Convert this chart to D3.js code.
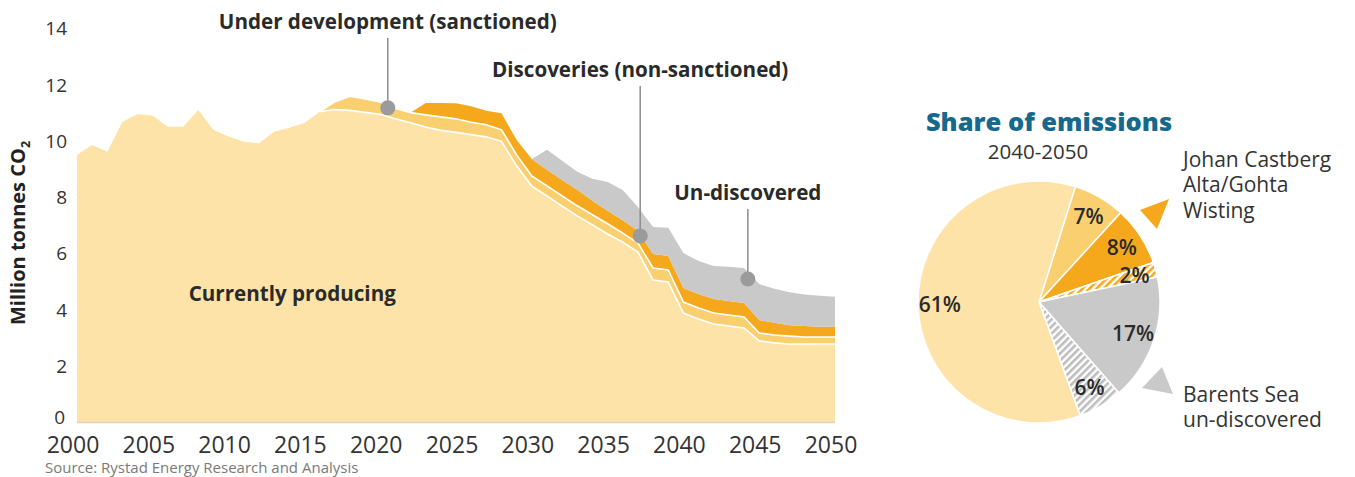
<!DOCTYPE html>
<html><head><meta charset="utf-8">
<script src="https://cdn.jsdelivr.net/npm/d3@7"></script>
<style>
body{margin:0;background:#fff}
svg{display:block}
text{font-family:"Open Sans",sans-serif}
</style>
</head><body>
<svg id="c" width="1355" height="477"></svg>
<script>
// ---------------- DATA ----------------
const years = [2000,2001,2002,2003,2004,2005,2006,2007,2008,2009,2010,2011,2012,2013,2014,2015,2016,2017,2018,2019,2020,2021,2022,2023,2024,2025,2026,2027,2028,2029,2030,2031,2032,2033,2034,2035,2036,2037,2038,2039,2040,2041,2042,2043,2044,2045,2046,2047,2048,2049,2050];
const currentlyProducing = [9.51,9.86,9.62,10.69,10.96,10.90,10.51,10.51,11.10,10.39,10.16,9.98,9.92,10.33,10.47,10.64,11.04,11.12,11.09,11.02,10.95,10.79,10.65,10.50,10.38,10.31,10.23,10.15,9.99,9.12,8.40,8.05,7.69,7.34,7.02,6.70,6.41,6.06,5.06,4.99,3.89,3.68,3.50,3.43,3.36,2.90,2.83,2.79,2.79,2.79,2.79];
const underDevelopment = [0,0,0,0,0,0,0,0,0,0,0,0,0,0,0,0,0,0.27,0.50,0.48,0.44,0.37,0.36,0.43,0.48,0.48,0.44,0.43,0.41,0.39,0.36,0.36,0.36,0.36,0.36,0.36,0.32,0.32,0.43,0.43,0.39,0.39,0.39,0.39,0.39,0.28,0.28,0.28,0.25,0.25,0.25];
const discoveries = [0,0,0,0,0,0,0,0,0,0,0,0,0,0,0,0,0,0,0,0,0,0,0,0.42,0.49,0.55,0.57,0.50,0.59,0.53,0.60,0.57,0.57,0.57,0.50,0.46,0.46,0.43,0.50,0.50,0.50,0.50,0.50,0.50,0.50,0.46,0.43,0.39,0.39,0.36,0.36];
const undiscovered = [0,0,0,0,0,0,0,0,0,0,0,0,0,0,0,0,0,0,0,0,0,0,0,0,0,0,0,0,0,0,0,0.71,0.68,0.64,0.78,1.03,1.07,0.85,0.96,1.00,1.24,1.17,1.17,1.21,1.24,1.28,1.21,1.17,1.12,1.10,1.07];

const yTicks = [0,2,4,6,8,10,12,14];
const xTicks = [2000,2005,2010,2015,2020,2025,2030,2035,2040,2045,2050];

const annotationLabels = ["Under development (sanctioned)","Discoveries (non-sanctioned)","Un-discovered"];
const annotationYears = [2020.5, 2037.15, 2044.25];
const annotationValues = [11.18, 6.63, 5.1];

const pieCategories = ["Under development","Discoveries","Discoveries (Barents)","Un-discovered","Un-discovered (Barents)","Currently producing"];
const pieValues = [7,8,2,17,6,61];
const pieLabels = ["7%","8%","2%","17%","6%","61%"];

const legendTop = ["Johan Castberg","Alta/Gohta","Wisting"];
const legendBottom = ["Barents Sea","un-discovered"];

// ---------------- DRAW ----------------
const svg = d3.select("#c");
const C = {cp:"#fde3a7", ud:"#f9cf6f", di:"#f6a81c", un:"#c9c9c9"};
const textCol = "#333";

const defs = svg.append("defs");
function hatch(id, col){
  const p = defs.append("pattern").attr("id",id).attr("patternUnits","userSpaceOnUse")
    .attr("width",5).attr("height",5).attr("patternTransform","rotate(45)");
  p.append("rect").attr("width",5).attr("height",5).attr("fill","#fff");
  p.append("rect").attr("x",0).attr("width",2.6).attr("height",5).attr("fill",col);
}
hatch("hOrange", C.di);
hatch("hGray", "#bdbdbd");

const x = d3.scaleLinear().domain([2000,2050]).range([77,835]);
const y = d3.scaleLinear().domain([0,14]).range([422.5,28.5]);

const rows = years.map((yr,i)=>({year:yr, cp:currentlyProducing[i], ud:underDevelopment[i], di:discoveries[i], un:undiscovered[i]}));
const keys = ["cp","ud","di","un"];
const series = d3.stack().keys(keys)(rows);

const area = d3.area().x(d=>x(d.data.year)).y0(d=>y(d[0])).y1(d=>y(d[1]));
svg.append("g").selectAll("path").data(series).join("path")
  .attr("d", area).attr("fill", d=>C[d.key]);

const topLine = d3.line().x(d=>x(d.data.year)).y(d=>y(d[1]))
  .defined(d=>d.data.year>=2016);
svg.append("g").selectAll("path").data(series.slice(0,2)).join("path")
  .attr("d", topLine).attr("fill","none").attr("stroke","#fff").attr("stroke-width",1.6);

// baseline
svg.append("line").attr("x1",x(2000)).attr("x2",x(2050)).attr("y1",y(0)).attr("y2",y(0))
  .attr("stroke","#d9d3c2").attr("stroke-width",1.5);

// y tick labels
svg.append("g").selectAll("text").data(yTicks).join("text")
  .attr("x",d=>d===0?65:67).attr("y",d=>y(d) - (d===0?5:0)).attr("dy","0.36em").attr("text-anchor","end")
  .attr("font-size",19).attr("fill",textCol).text(d=>d);

// x tick labels
svg.append("g").selectAll("text").data(xTicks).join("text")
  .attr("x",d=>x(d)-4).attr("y",453).attr("text-anchor","middle")
  .attr("font-size",23).attr("fill",textCol).text(d=>d);

// y title
const yt = svg.append("text").attr("transform","translate(25,233) rotate(-90)")
  .attr("text-anchor","middle").attr("font-size",20).attr("font-weight",700).attr("fill","#222");
yt.append("tspan").text("Million tonnes CO");
yt.append("tspan").attr("font-size",12.5).attr("dy",5).text("2");

// annotations
const ann = annotationLabels.map((l,i)=>({label:l, year:annotationYears[i], value:annotationValues[i]}));
const labelBase = [29,77,200];
const ag = svg.append("g");
ann.forEach((a,i)=>{
  ag.append("line").attr("x1",x(a.year)).attr("x2",x(a.year))
    .attr("y1",labelBase[i]+9).attr("y2",y(a.value)).attr("stroke","#8c8c8c").attr("stroke-width",1.5);
  ag.append("circle").attr("cx",x(a.year)).attr("cy",y(a.value)).attr("r",7.5).attr("fill","#9b9b9b");
  ag.append("text").attr("x",x(a.year)).attr("y",labelBase[i]).attr("text-anchor","middle")
    .attr("font-size",20.6).attr("font-weight",700).attr("fill","#2a2a2a").text(a.label);
});
svg.append("text").attr("x",x(2014.2)).attr("y",y(4.3)).attr("text-anchor","middle")
  .attr("font-size",20.6).attr("font-weight",700).attr("fill","#2a2a2a").text("Currently producing");

// source
svg.append("text").attr("x",45).attr("y",473).attr("font-size",15).attr("fill","#7a7a7a")
  .text("Source: Rystad Energy Research and Analysis");

// ---------------- PIE ----------------
const cx = 1039, cy = 302, r = 121;
const start = 17.5*Math.PI/180;
const pie = d3.pie().sort(null).startAngle(start).endAngle(start+2*Math.PI);
const arcs = pie(pieValues);
const pieFill = [C.ud, C.di, "url(#hOrange)", C.un, "url(#hGray)", C.cp];
const arc = d3.arc().innerRadius(0).outerRadius(r);
const lArc = d3.arc().innerRadius(r*0.82).outerRadius(r*0.82);
const pg = svg.append("g").attr("transform",`translate(${cx},${cy})`);
pg.selectAll("path").data(arcs).join("path").attr("d",arc)
  .attr("fill",(d,i)=>pieFill[i]).attr("stroke","#fff").attr("stroke-width",1.5);
pg.selectAll("text").data(arcs).join("text")
  .attr("transform",d=>`translate(${lArc.centroid(d)})`).attr("dy","0.36em")
  .attr("text-anchor","middle").attr("font-size",21).attr("font-weight",600).attr("fill","#2a2a2a")
  .text((d,i)=>pieLabels[i]);

svg.append("text").attr("x",1049).attr("y",130.5).attr("text-anchor","middle")
  .attr("font-size",25.5).attr("font-weight",800).attr("fill","#16698c").text("Share of emissions");
svg.append("text").attr("x",1038).attr("y",159).attr("text-anchor","middle")
  .attr("font-size",20.5).attr("fill",textCol).text("2040-2050");

// legend
svg.append("path").attr("d",`M${cx+101},${cy-92}L${cx+130},${cy-103}L${cx+118},${cy-73}Z`).attr("fill",C.di);
svg.append("path").attr("d",`M${cx+103},${cy+86}L${cx+123},${cy+65}L${cx+134},${cy+92}Z`).attr("fill",C.un);
svg.append("g").selectAll("text").data(legendTop).join("text")
  .attr("x",1183).attr("y",(d,i)=>166.5+i*25.8).attr("font-size",21).attr("fill",textCol).text(d=>d);
svg.append("g").selectAll("text").data(legendBottom).join("text")
  .attr("x",1183).attr("y",(d,i)=>401.5+i*25.5).attr("font-size",21).attr("fill",textCol).text(d=>d);
</script>
</body></html>
